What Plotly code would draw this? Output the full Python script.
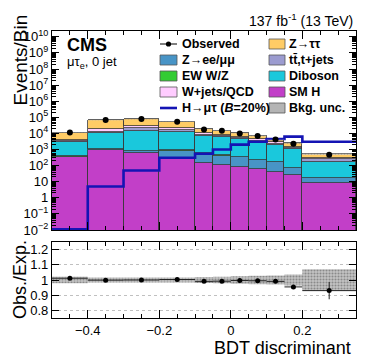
import numpy as np
import plotly.graph_objects as go

# ─── DATA ───
bin_edges = [-0.5, -0.4, -0.3, -0.2, -0.1, -0.05, 0.0, 0.05, 0.1, 0.15, 0.2, 0.35]

sm_h = [355, 930, 600, 295, 138, 110, 85, 59, 42, 26, 8]
z_ll = [8, 90, 190, 555, 440, 290, 245, 165, 125, 42, 8]
ew_wz = [15, 50, 70, 50, 30, 25, 20, 12, 8, 5, 1]
diboson = [2650, 8950, 14000, 11400, 6450, 5330, 4120, 2580, 1730, 950, 157]
ttbar = [530, 2590, 6100, 3190, 1430, 1160, 900, 730, 386, 236, 66]
wjets_qcd = [620, 6030, 7950, 5400, 2210, 1400, 940, 718, 527, 255, 76]
z_tautau = [7050, 49000, 48800, 31600, 7060, 6470, 3690, 2650, 1450, 885, 185]
h_mutau = [0.011, 5, 50, 310, 550, 1000, 2000, 3000, 4500, 6300, 3000]
observed = [11360, 67570, 77710, 52650, 17600, 14670, 9970, 6880, 4230, 2290, 466]
ratio_err = [0.004, 0.002, 0.002, 0.002, 0.004, 0.005, 0.005, 0.006, 0.008, 0.01, 0.057]
bkg_unc = [0.022, 0.016, 0.016, 0.016, 0.02, 0.022, 0.025, 0.028, 0.03, 0.037, 0.07]

# ─── THEME ───
_FONT = "Liberation Sans, Arial, sans-serif"
_EDGE = "#3a3a3a"
_SIG = "#1414b4"
_UNC = "#b4b4b4"
_STACK = [  # bottom -> top
    ("SM H", sm_h, "#c23fc8"),
    ("Z→ee/μμ", z_ll, "#4894c6"),
    ("EW W/Z", ew_wz, "#33cc33"),
    ("Diboson", diboson, "#1ac8dc"),
    ("tt\u0304,t+jets", ttbar, "#9c9cd0"),
    ("W+jets/QCD", wjets_qcd, "#ffccff"),
    ("Z→ττ", z_tautau, "#ffcc66"),
]
_COL = {n: c for n, _, c in _STACK}

# canvas geometry: plot frame in screen pixels; the page body adds an 8px offset
W, H = 374, 363
OFF = 8
FL, FT, FR, FB = 52, 31, 356, 318
ML, MT = FL - OFF, FT - OFF
MR, MB = W - (FR - OFF), H - (FB - OFF)
def _px(x):
    return (x - FL) / (FR - FL)
def _py(y):
    return (FB - y) / (FB - FT)

edges = np.array(bin_edges)
centers = 0.5 * (edges[1:] + edges[:-1])
widths = edges[1:] - edges[:-1]
total = np.sum([np.array(v, dtype=float) for _, v, _ in _STACK], axis=0)
obs = np.array(observed, dtype=float)
ratio = obs / total
unc = np.array(bkg_unc)


def _boxes(lo, hi):
    xs, ys = [], []
    for x0, x1, a, b in zip(edges[:-1], edges[1:], lo, hi):
        xs += [x0, x1, x1, x0, x0, None]
        ys += [a, a, b, b, a, None]
    return xs, ys


fig = go.Figure()

for name, vals, color in _STACK:
    fig.add_trace(go.Bar(
        x=centers, y=vals, width=widths, name=name,
        marker=dict(color=color, line=dict(color=_EDGE, width=0.8)),
        xaxis="x", yaxis="y", hoverinfo="skip",
    ))

# signal step line
fig.add_trace(go.Scatter(
    x=edges, y=h_mutau + [h_mutau[-1]], mode="lines", line_shape="hv",
    line=dict(color=_SIG, width=2.6), name="H→μτ", xaxis="x", yaxis="y",
))

# background uncertainty on the stack
bx, by = _boxes(total * (1 - unc), total * (1 + unc))
fig.add_trace(go.Scatter(
    x=bx, y=by, fill="toself", mode="none", name="Bkg. unc.",
    fillcolor="rgba(150,150,150,0.6)",
    fillpattern=dict(shape=".", fgcolor="#777", bgcolor="#c8c8c8", size=3, solidity=0.4),
    xaxis="x", yaxis="y",
))

# observed
fig.add_trace(go.Scatter(
    x=centers, y=obs, mode="markers", name="Observed",
    marker=dict(color="black", size=6), xaxis="x", yaxis="y",
))

# ratio panel
rx, ry = _boxes(1 - unc, 1 + unc)
fig.add_trace(go.Scatter(
    x=rx, y=ry, fill="toself", mode="none",
    fillcolor="rgba(160,160,160,0.7)",
    fillpattern=dict(shape=".", fgcolor="#8a8a8a", bgcolor="#c4c4c4", size=3, solidity=0.4),
    xaxis="x2", yaxis="y2",
))
fig.add_trace(go.Scatter(
    x=centers, y=ratio, mode="markers",
    marker=dict(color="black", size=5),
    error_x=dict(type="data", array=widths / 2, color="#222", thickness=1, width=0),
    error_y=dict(type="data", array=ratio_err, color="#222", thickness=1, width=0),
    xaxis="x2", yaxis="y2",
))

# ─── AXES ───
_ax = dict(showline=True, linecolor="black", linewidth=1.3, mirror="allticks",
           ticks="inside", tickcolor="black", zeroline=False, automargin=False,
           tickfont=dict(family=_FONT, size=13, color="black"))
x_ticks = dict(range=[-0.5, 0.35], tick0=0, dtick=0.2, ticklen=8, showgrid=False,
               minor=dict(ticks="inside", ticklen=4, dtick=0.05, tick0=0, tickcolor="black"))

dec = list(range(-2, 11))
def _lab(k):
    if k == 0:
        return "1"
    if k == 1:
        return "10"
    return "10<sup>%s</sup>" % (str(k).replace("-", "−"))

fig.update_layout(
    template="none",
    width=W, height=H,
    paper_bgcolor="white", plot_bgcolor="white",
    margin=dict(l=ML, r=MR, t=MT, b=MB, autoexpand=False),
    font=dict(family=_FONT, color="black"),
    barmode="stack", bargap=0, showlegend=False,
    xaxis=dict(**_ax, **x_ticks, anchor="y", matches="x2", showticklabels=False),
    yaxis=dict(**_ax, type="log", domain=[_py(230), 1], range=[-2, 10.36], showgrid=False,
               tickmode="array", tickvals=[10.0 ** k for k in dec],
               ticktext=[_lab(k) for k in dec], ticklen=7,
               minor=dict(ticks="inside", ticklen=3.5, dtick="D1", tickcolor="black")),
    xaxis2=dict(**_ax, **x_ticks, anchor="y2"),
    yaxis2=dict(**_ax, domain=[0, _py(242)], range=[0.75, 1.25],
                tickvals=[0.8, 0.9, 1.0, 1.1, 1.2], ticklen=7,
                showgrid=True, gridcolor="#c0c0c0", griddash="dot", gridwidth=1),
)

# ─── LEGEND (two columns, ROOT style) ───
rows = [44, 60, 76, 92, 108]
legend_items = [
    (0, 0, "Observed", "obs", "black"),
    (1, 0, "Z→ττ", "box", _COL["Z→ττ"]),
    (0, 1, "Z→ee/μμ", "box", _COL["Z→ee/μμ"]),
    (1, 1, "tt\u0304,t+jets", "box", _COL["tt\u0304,t+jets"]),
    (0, 2, "EW W/Z", "box", _COL["EW W/Z"]),
    (1, 2, "Diboson", "box", _COL["Diboson"]),
    (0, 3, "W+jets/QCD", "box", _COL["W+jets/QCD"]),
    (1, 3, "SM H", "box", _COL["SM H"]),
    (0, 4, "H→μτ (<i>B</i>=20%)", "line", _SIG),
    (1, 4, "Bkg. unc.", "box", _UNC),
]
col_x = [(160, 177, 181), (269, 285, 288)]
shapes = []
annotations = []
for c, r, label, kind, color in legend_items:
    s0, s1, tx = col_x[c]
    yc = rows[r]
    if kind == "box":
        shapes.append(dict(type="rect", xref="paper", yref="paper",
                           x0=_px(s0), x1=_px(s1), y0=_py(yc + 5), y1=_py(yc - 5),
                           fillcolor=color, line=dict(color="#555", width=0.8)))
    elif kind == "line":
        shapes.append(dict(type="line", xref="paper", yref="paper",
                           x0=_px(s0), x1=_px(s1), y0=_py(yc), y1=_py(yc),
                           line=dict(color=color, width=2.6)))
    else:
        shapes.append(dict(type="line", xref="paper", yref="paper",
                           x0=_px(s0), x1=_px(s1), y0=_py(yc), y1=_py(yc),
                           line=dict(color=color, width=1)))
        xm = 0.5 * (s0 + s1)
        shapes.append(dict(type="circle", xref="paper", yref="paper",
                           x0=_px(xm - 2.6), x1=_px(xm + 2.6), y0=_py(yc + 2.6), y1=_py(yc - 2.6),
                           fillcolor="black", line=dict(color="black", width=0)))
    annotations.append(dict(text=label, x=_px(tx), y=_py(yc), xanchor="left", yanchor="middle",
                            font=dict(size=12.5, weight="bold")))

annotations += [
    dict(text="137 fb<sup>-1</sup> (13 TeV)", x=_px(354), y=_py(20), xanchor="right",
         yanchor="middle", font=dict(size=14)),
    dict(text="<b>CMS</b>", x=_px(66), y=_py(45), xanchor="left", yanchor="middle",
         font=dict(size=18)),
    dict(text="μτ<sub>e</sub>, 0 jet", x=_px(66), y=_py(62), xanchor="left", yanchor="middle",
         font=dict(size=13)),
    dict(text="Events/Bin", x=_px(20), y=_py(14), xanchor="center", yanchor="top",
         textangle=-90, font=dict(size=19)),
    dict(text="Obs./Exp.", x=_px(20), y=_py(280), xanchor="center", yanchor="middle",
         textangle=-90, font=dict(size=18)),
    dict(text="BDT discriminant", x=_px(352), y=_py(348), xanchor="right", yanchor="middle",
         font=dict(size=18)),
]
for a in annotations:
    a.update(xref="paper", yref="paper", showarrow=False, borderpad=0)
    a["font"] = dict(family=_FONT, color="black", **a["font"])
fig.update_layout(annotations=annotations, shapes=shapes)

fig.write_html("out.html")
